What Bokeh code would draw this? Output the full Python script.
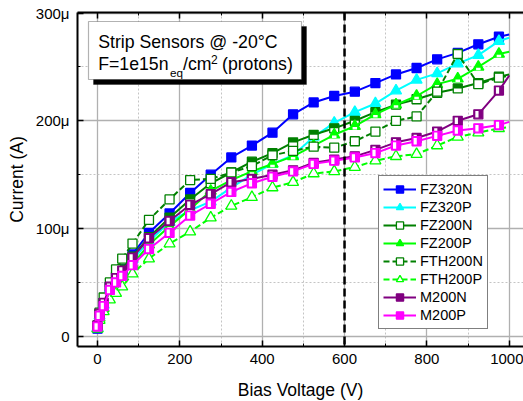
from bokeh.plotting import figure
from bokeh.models import (ColumnDataSource, FixedTicker, LinearAxis, Range1d, Span,
                          BoxAnnotation, Label, Legend, LegendItem, CustomJSTickFormatter)
from bokeh.embed import file_html
from bokeh.resources import INLINE

# ---------------- data (bias voltage in V, current in µA) ----------------
V = [0, 5, 15, 30, 45, 60, 85, 125, 175, 225, 275, 325, 375, 425, 475, 525,
     575, 625, 675, 725, 775, 825, 875, 925, 975, 1000]
FZ320N = [7, 20, 31, 46, 55, 62, 76, 96, 114, 133, 150, 166, 177, 189, 206, 217,
          223, 227, 235, 243, 249, 257, 263, 271, 278, 280]
FZ320P = [8, 19, 29, 44, 53, 60, 71, 88, 106, 117, 125, 138, 150, 160, 168, 185,
          198, 208, 216, 228, 238, 244, 253, 261, 274, 277]
FZ200N = [9, 21, 31, 46, 55, 62, 74, 92, 110, 127, 142, 152, 162, 170, 180, 187,
          193, 200, 208, 215, 220, 226, 230, 235, 241, 243]
FZ200P = [7, 17, 26, 40, 50, 57, 67, 85, 102, 118, 135, 145, 153, 160, 167, 177,
          187, 195, 206, 215, 223, 234, 239, 250, 262, 264]
FTH200N = [10, 22, 36, 50, 62, 72, 86, 108, 127, 145, 146, 152, 158, 168, 172, 176,
           175, 181, 190, 200, 204, 227, 262, 234, 240, 242]
FTH200P = [7, 15, 23, 34, 40, 46, 58, 72, 86, 97, 110, 121, 129, 138, 143, 151,
           153, 157, 163, 167, 169, 177, 185, 189, 193, 194]
M200N = [10, 21, 31, 46, 54, 61, 73, 91, 107, 122, 132, 143, 146, 150, 154, 161,
         164, 167, 173, 180, 184, 190, 200, 206, 228, 242]
M200P = [9, 19, 28, 43, 50, 56, 66, 81, 96, 112, 123, 134, 142, 148, 153, 160,
         163, 166, 170, 177, 181, 186, 191, 193, 196, 199]

X_TICKS = [0, 200, 400, 600, 800, 1000]
X_MINOR = [100, 300, 500, 700, 900]
Y_TICKS = [0, 100, 200, 300]
Y_MINOR = [50, 150, 250]
MARK_V = 600

TITLE1 = "Strip Sensors @ -20°C"
X_LABEL = "Bias Voltage (V)"
Y_LABEL = "Current (A)"

# ---------------- layout ----------------
FONT = "Liberation Sans"
X0, X1 = -48.6, 1034.7
Y0, Y1 = -9.5, 300.5
FL, FT, FW, FH = 77, 12, 446, 334
XPP = (X1 - X0) / FW
YPP = (Y1 - Y0) / FH


def dx(px):
    return X0 + (px - FL) * XPP


def dy(py):
    return Y1 - (py - FT) * YPP


p = figure(width=523, height=401, frame_width=FW, frame_height=FH,
           x_range=Range1d(X0, X1), y_range=Range1d(Y0, Y1),
           output_backend="svg", toolbar_location=None,
           min_border_left=FL, min_border_top=FT,
           min_border_bottom=401 - FT - FH, min_border_right=0,
           x_axis_label=X_LABEL, y_axis_label=Y_LABEL)
p.outline_line_color = None
p.background_fill_color = "white"
p.border_fill_color = "white"

bottom = p.below[0]
left = p.left[0]

xt = FixedTicker(ticks=X_TICKS, minor_ticks=X_MINOR)
yt = FixedTicker(ticks=Y_TICKS, minor_ticks=Y_MINOR)
bottom.ticker = xt
left.ticker = yt
p.xgrid.ticker = xt
p.ygrid.ticker = yt
left.formatter = CustomJSTickFormatter(
    code="return tick == 0 ? '0' : tick.toFixed(0) + '\u03bc';")

top = LinearAxis(ticker=xt, formatter=CustomJSTickFormatter(code="return '';"))
top.major_label_standoff = 0
p.add_layout(top, "above")

for ax in [bottom, left, top]:
    ax.axis_line_color = "black"
    ax.axis_line_width = 2
    ax.major_tick_in = 6
    ax.major_tick_out = 0
    ax.minor_tick_in = 3
    ax.minor_tick_out = 0
    ax.major_tick_line_color = "black"
    ax.major_tick_line_width = 1.5
    ax.minor_tick_line_color = "black"
    ax.minor_tick_line_width = 1
    ax.major_label_text_font = FONT
    ax.major_label_text_font_size = "15px"
    ax.major_label_text_color = "black"
    ax.axis_label_text_font = FONT
    ax.axis_label_text_font_size = "17.5px"
    ax.axis_label_text_font_style = "normal"
    ax.axis_label_text_color = "black"

bottom.major_label_standoff = 7
bottom.axis_label_standoff = 13
left.major_label_standoff = 8
left.axis_label_standoff = 6

for g in [p.xgrid[0], p.ygrid[0]]:
    g.grid_line_color = "#b0b0b0"
    g.grid_line_width = 1.3
    g.minor_grid_line_color = "#c4c4c4"
    g.minor_grid_line_width = 1
    g.minor_grid_line_dash = "2 2"

# ---------------- series ----------------
SERIES = [
    ("FZ320N", FZ320N, "#0000FF", "solid", "square", 9, "#0000FF", None),
    ("FZ320P", FZ320P, "#00FFFF", "solid", "triangle", 11, "#00FFFF", None),
    ("FZ200N", FZ200N, "#008000", "solid", "square", 9, "white",
     ("#008000", 0, 2.2, 9, 4.5)),
    ("FZ200P", FZ200P, "#00FF00", "solid", "triangle", 11, "#00FF00",
     ("white", 0, -2.0, 4.5, 2.5)),
    ("FTH200N", FTH200N, "#008000", "6 3", "square", 9, "white", None),
    ("FTH200P", FTH200P, "#00FF00", "6 3", "triangle", 11, "white", None),
    ("M200N", M200N, "#800080", "solid", "square", 9, "#800080",
     ("white", -1.4, 0, 3.2, 6.5)),
    ("M200P", M200P, "#FF00FF", "solid", "square", 9, "#FF00FF",
     ("white", -1.4, 0, 3.2, 6.5)),
]

items = []
for name, vals, color, dash, marker, msize, fill, overlay in SERIES:
    src = ColumnDataSource(dict(x=V, y=vals))
    lr = p.line("x", "y", source=src, line_color=color, line_width=2, line_dash=dash)
    msrc = ColumnDataSource(dict(x=V[:-1], y=vals[:-1]))
    sr = p.scatter("x", "y", source=msrc, marker=marker, size=msize,
                   fill_color=fill, line_color=color, line_width=1.3)
    if overlay:
        oc, ox, oy, ow, oh = overlay
        osrc = ColumnDataSource(dict(x=[v + ox * XPP for v in V[:-1]],
                                     y=[u + oy * YPP for u in vals[:-1]]))
        p.rect("x", "y", width=ow, height=oh, width_units="screen",
               height_units="screen", source=osrc, fill_color=oc, line_color=None)
    items.append(LegendItem(label=name, renderers=[lr, sr]))

p.add_layout(Span(location=MARK_V, dimension="height", line_color="black",
                  line_width=2.5, line_dash="8 4"))

legend = Legend(items=items, location=(301, 17))
legend.label_text_font = FONT
legend.label_text_font_size = "14.5px"
legend.label_text_color = "black"
legend.glyph_width = 33
legend.glyph_height = 18
legend.label_height = 18
legend.spacing = 0
legend.padding = 4
legend.margin = 0
legend.label_standoff = 4
legend.border_line_color = "black"
legend.border_line_width = 1
legend.background_fill_color = "white"
legend.background_fill_alpha = 1
p.add_layout(legend)

# ---------------- title box ----------------
p.add_layout(BoxAnnotation(left=dx(93), right=dx(306), top=dy(26), bottom=dy(84),
                           fill_color="black", fill_alpha=1, line_color="black"))
p.add_layout(BoxAnnotation(left=dx(88), right=dx(301), top=dy(21), bottom=dy(79),
                           fill_color="white", fill_alpha=1, line_color="black",
                           line_width=1.2))


def lab(text, px, py, size):
    p.add_layout(Label(x=dx(px), y=dy(py), text=text, text_font=FONT,
                       text_font_size=f"{size}px", text_baseline="alphabetic",
                       text_color="black"))


lab(TITLE1, 97.7, 41.7, 17.7)
lab("F=1e15n", 97.7, 63.3, 17.7)
lab("eq", 169.5, 72.0, 11.7)
lab("/cm", 182.5, 63.3, 17.7)
lab("2", 210.5, 58.5, 12)
lab("(protons)", 221.5, 63.3, 17.7)

open("out.html", "w", encoding="utf-8").write(file_html(p, INLINE))
